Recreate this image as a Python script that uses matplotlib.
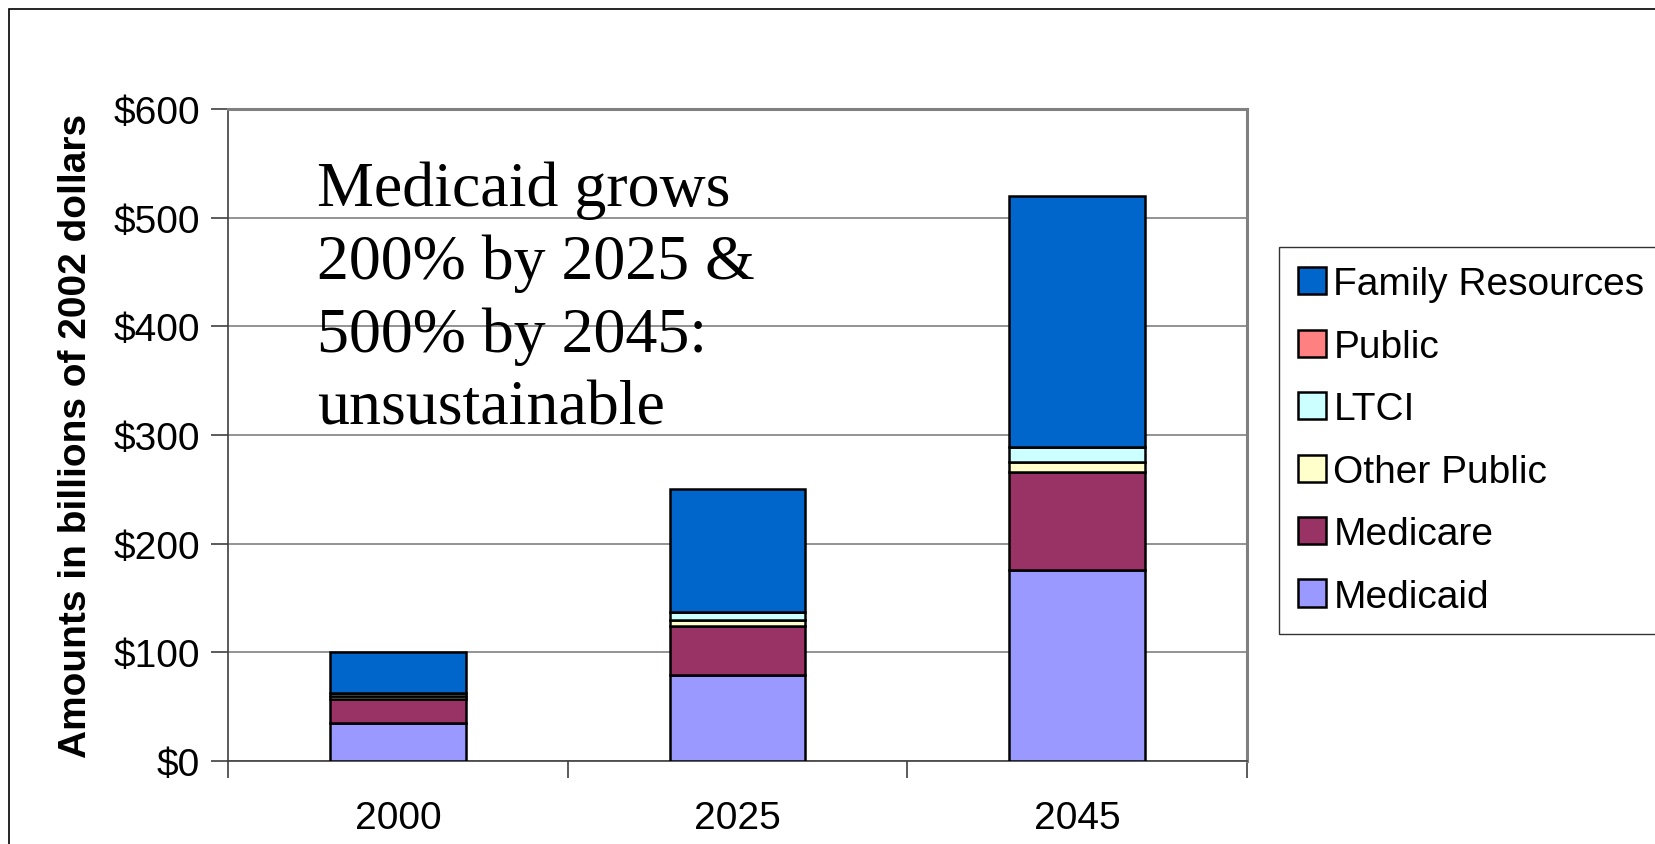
import numpy as np
import matplotlib.pyplot as plt
import matplotlib.patches as mpatches

plt.rcParams['font.family'] = ['Liberation Sans', 'DejaVu Sans']

years = ['2000', '2025', '2045']
series_names = ['Medicaid', 'Medicare', 'Other Public', 'LTCI', 'Public', 'Family Resources']
medicaid = [35, 79, 176]
medicare = [22, 45, 90]
other_public = [3, 6, 9]
ltci = [3, 7, 14]
public = [0, 0, 0]
family = [37, 113, 231]
colours = ['#9999FF', '#993366', '#FFFFCC', '#CCFFFF', '#FF8080', '#0066CC']

W, H = 1656, 845
fig = plt.figure(figsize=(W / 100, H / 100), dpi=100)
ax = fig.add_axes([228 / W, 1 - 762 / H, (1247 - 228) / W, (762 - 110) / H])

# outer frame (runs off the right and bottom edges)
fig.patches.append(mpatches.Rectangle((9 / W, -0.2), 1.2, 1.2 - 10 / H,
                                      transform=fig.transFigure, fill=False,
                                      edgecolor='black', lw=1.2, zorder=0))

x = np.arange(len(years))
bottom = np.zeros(len(years))
handles = []
for name, vals, col in zip(series_names,
                           [medicaid, medicare, other_public, ltci, public, family],
                           colours):
    b = ax.bar(x, vals, width=0.4, bottom=bottom, color=col, edgecolor='black',
               lw=1.8, label=name, zorder=3)
    handles.append(b)
    bottom += np.array(vals)

ax.set_xlim(-0.5, 2.5)
ax.set_ylim(0, 600)
ax.set_yticks(np.arange(0, 601, 100))
ax.set_yticklabels(['$%d' % v for v in range(0, 601, 100)], fontsize=28)
ax.yaxis.grid(True, color='#808080', lw=1.2, zorder=0)
ax.set_axisbelow(True)

# category labels in the middle, tick marks between the categories
ax.set_xticks([-0.5, 0.5, 1.5, 2.5])
ax.set_xticklabels([])
ax.set_xticks(x, minor=True)
ax.set_xticklabels(years, minor=True, fontsize=28)
ax.tick_params(axis='x', which='minor', length=0, pad=28)
ax.tick_params(axis='x', which='major', length=12, width=1.2, color='#404040')
ax.tick_params(axis='y', length=12, width=1.2, color='#404040', pad=8)

for s in ['top', 'right']:
    ax.spines[s].set_color('#808080')
    ax.spines[s].set_linewidth(2.2)
ax.spines['left'].set_color('#404040')
ax.spines['bottom'].set_color('#404040')
ax.spines['left'].set_linewidth(1.2)
ax.spines['bottom'].set_linewidth(1.2)

ax.set_ylabel('Amounts in billions of 2002 dollars', fontsize=28,
              fontweight='bold', labelpad=14)

ax.text(-0.238, 553, 'Medicaid grows\n200% by 2025 &\n500% by 2045:\nunsustainable',
        family='Liberation Serif', fontsize=46, va='top', ha='left',
        linespacing=1.33, zorder=2)

leg = fig.legend(handles[::-1], series_names[::-1], loc='upper left',
                 bbox_to_anchor=(1279 / W, 1 - 248 / H), fontsize=28,
                 frameon=True, fancybox=False, edgecolor='black',
                 handlelength=0.7, handleheight=0.7, handletextpad=0.2,
                 labelspacing=0.68, borderpad=0.5, borderaxespad=0)
leg.get_frame().set_linewidth(1.0)

fig.savefig('out.png', dpi=100)
